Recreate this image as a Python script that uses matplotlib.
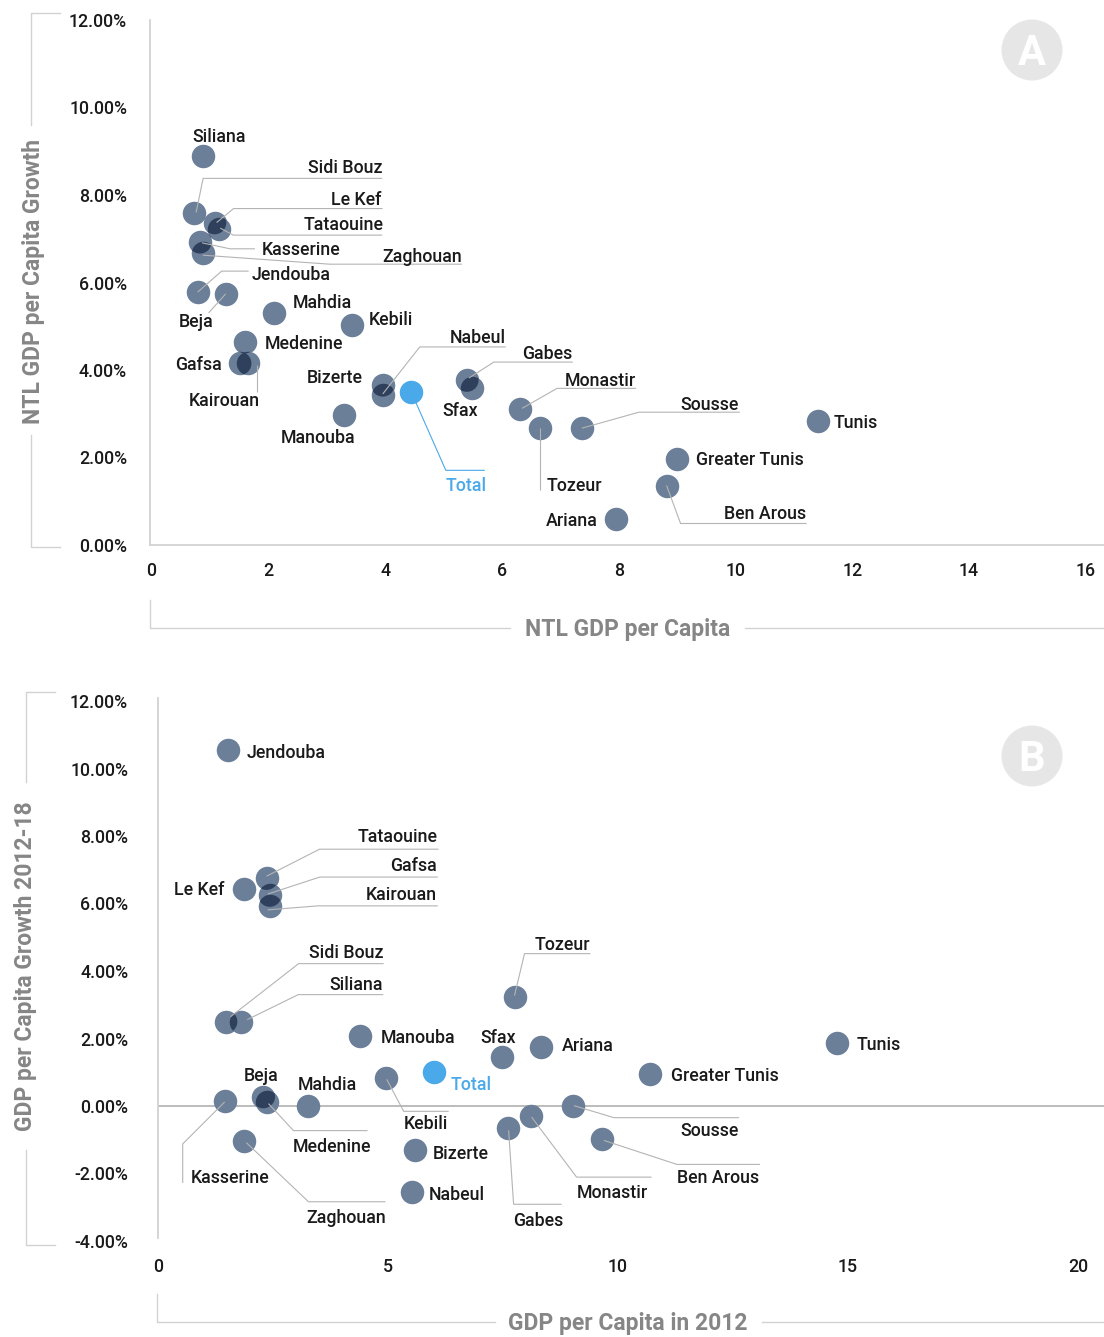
import matplotlib
matplotlib.use("Agg")
import matplotlib.pyplot as plt
from matplotlib.lines import Line2D
from matplotlib.patches import Ellipse
from matplotlib.ticker import FuncFormatter, MultipleLocator
import numpy as np

W, H = 1104, 1337
plt.rcParams['font.family'] = ['Roboto', 'DejaVu Sans']

# --- panel A: night-time-light GDP per capita vs its growth ---
ntl_region = ["Siliana", "Sidi Bouz", "Le Kef", "Tataouine", "Kasserine", "Zaghouan",
              "Jendouba", "Beja", "Mahdia", "Kebili", "Medenine", "Gafsa", "Kairouan",
              "Bizerte", "Nabeul", "Manouba", "Gabes", "Sfax", "Monastir", "Tozeur",
              "Sousse", "Tunis", "Greater Tunis", "Ben Arous", "Ariana", "Total"]
ntl_gdp_pc = [0.89, 0.73, 1.08, 1.16, 0.83, 0.88, 0.79, 1.27, 2.09, 3.43, 1.60, 1.51, 1.65,
              3.96, 3.96, 3.29, 5.40, 5.49, 6.31, 6.65, 7.37, 11.41, 9.00, 8.82, 7.95, 4.44]
ntl_growth = [8.89, 7.58, 7.37, 7.22, 6.93, 6.67, 5.78, 5.74, 5.30, 5.03, 4.65, 4.15, 4.16,
              3.66, 3.43, 2.97, 3.77, 3.58, 3.10, 2.67, 2.67, 2.83, 1.97, 1.36, 0.59, 3.49]

# --- panel B: GDP per capita in 2012 vs growth 2012-18 ---
gdp_region = ["Jendouba", "Le Kef", "Tataouine", "Gafsa", "Kairouan", "Sidi Bouz", "Siliana",
              "Tozeur", "Manouba", "Sfax", "Ariana", "Greater Tunis", "Kebili", "Beja",
              "Medenine", "Kasserine", "Mahdia", "Zaghouan", "Bizerte", "Nabeul", "Gabes",
              "Monastir", "Sousse", "Ben Arous", "Tunis", "Total"]
gdp_pc_2012 = [1.52, 1.87, 2.36, 2.43, 2.43, 1.47, 1.81, 7.75, 4.40, 7.47, 8.32, 10.70, 4.95,
               2.29, 2.38, 1.45, 3.27, 1.88, 5.58, 5.52, 7.60, 8.10, 9.02, 9.65, 14.76, 6.00]
gdp_growth = [10.54, 6.43, 6.75, 6.25, 5.93, 2.50, 2.50, 3.24, 2.07, 1.44, 1.76, 0.95, 0.82,
              0.28, 0.13, 0.15, 0.01, -1.03, -1.30, -2.54, -0.66, -0.30, 0.01, -0.99, 1.88, 1.02]

# label placement in pixels relative to the dot (y down):
# (text dx, text dy, alignment, leader polyline or None)
layout_a = {
    "Siliana": (16, -20, "center", None),
    "Sidi Bouz": (188, -47, "right", [(2, -1), (9, -35), (188, -35)]),
    "Le Kef": (167, -24, "right", [(2, 0), (19, -14), (168, -14)]),
    "Tataouine": (164, -5, "right", [(1, -1), (14, 6), (163, 6)]),
    "Kasserine": (62, 7, "left", [(2, 1), (30, 7), (55, 7)]),
    "Zaghouan": (259, 2, "right", [(0, 2), (127, 11), (259, 11)]),
    "Jendouba": (54, -18, "left", [(0, 0), (24, -21), (51, -21)]),
    "Beja": (-30, 27, "center", [(0, 0), (-17, 19)]),
    "Mahdia": (19, -11, "left", None),
    "Kebili": (17, -6, "left", None),
    "Medenine": (20, 1, "left", None),
    "Gafsa": (-18, 0, "right", None),
    "Kairouan": (-24, 37, "center", [(9, 2), (9, 29)]),
    "Bizerte": (-20, -8, "right", None),
    "Nabeul": (123, -58, "right", [(0, -1), (37, -48), (123, -48)]),
    "Total": (35, 92, "left", [(5, 10), (35, 78), (74, 78)]),
    "Manouba": (-26, 22, "center", None),
    "Gabes": (106, -27, "right", [(2, -2), (27, -18), (106, -18)]),
    "Sfax": (-12, 21, "center", None),
    "Monastir": (116, -30, "right", [(2, -1), (37, -21), (116, -21)]),
    "Tozeur": (7, 56, "left", [(0, 0), (0, 62)]),
    "Sousse": (157, -25, "right", [(0, 0), (57, -16), (158, -16)]),
    "Tunis": (16, 0, "left", None),
    "Greater Tunis": (19, 0, "left", None),
    "Ben Arous": (140, 27, "right", [(0, 0), (14, 38), (140, 38)]),
    "Ariana": (-18, 0, "right", None),
}

layout_b = {
    "Jendouba": (19, 1, "left", None),
    "Le Kef": (-20, 0, "right", None),
    "Tataouine": (171, -43, "right", [(0, -2), (53, -29), (172, -29)]),
    "Gafsa": (167, -30, "right", [(-2, -1), (50, -18), (168, -18)]),
    "Kairouan": (167, -12, "right", [(-2, 4), (48, 0), (168, 0)]),
    "Sidi Bouz": (158, -70, "right", [(5, -5), (73, -58), (158, -58)]),
    "Siliana": (142, -38, "right", [(6, -2), (57, -27), (142, -27)]),
    "Tozeur": (76, -53, "right", [(0, -1), (10, -43), (76, -43)]),
    "Manouba": (20, 1, "left", None),
    "Sfax": (-3, -21, "center", None),
    "Ariana": (21, -2, "left", None),
    "Greater Tunis": (21, 1, "left", None),
    "Total": (17, 12, "left", None),
    "Kebili": (18, 44, "left", [(1, 1), (18, 33), (63, 33)]),
    "Beja": (-2, -22, "center", None),
    "Medenine": (25, 44, "left", [(1, 2), (26, 29), (100, 29)]),
    "Kasserine": (-34, 76, "left", [(0, 1), (-42, 43), (-42, 82)]),
    "Mahdia": (19, -22, "center", None),
    "Zaghouan": (62, 76, "left", [(2, 2), (64, 61), (141, 61)]),
    "Bizerte": (18, 3, "left", None),
    "Nabeul": (17, 2, "left", None),
    "Gabes": (6, 91, "left", [(1, 2), (6, 76), (54, 76)]),
    "Monastir": (46, 76, "left", [(1, 1), (46, 61), (121, 61)]),
    "Sousse": (166, 24, "right", [(1, 0), (41, 12), (166, 12)]),
    "Ben Arous": (75, 37, "left", [(2, 1), (75, 25), (158, 25)]),
    "Tunis": (20, 1, "left", None),
}

DOT = "#6c7f99"
DOT_OVERLAP = "#2f405c"
TOTAL = "#4aa9e8"
LEADER = "#b4b4b4"
TEXT = "#1a1a1a"
AXIS = "#d2d2d2"
TITLE = "#868686"
DIAM = 23.5                      # dot diameter in pixels
DOT_S = (DIAM * 72 / 100) ** 2
LABEL_SIZE = 12.8
LABEL_WEIGHT = "medium"
CAP = 0.711 * LABEL_SIZE * 100 / 72

fig = plt.figure(figsize=(W / 100, H / 100), dpi=100)


def px_axes(l, t, r, b):
    return fig.add_axes([l / W, 1 - b / H, (r - l) / W, (b - t) / H])


def fig_line(xs, ys, color=AXIS, lw=1.0):
    fig.add_artist(Line2D([x / W for x in xs], [1 - y / H for y in ys],
                          transform=fig.transFigure, color=color, lw=lw))


def shifted(ax, x, y, dx, dy):
    px, py = ax.transData.transform((x, y))
    return ax.transData.inverted().transform((px + dx, py - dy))


def draw_points(ax, names, xs, ys, layout):
    xs = np.asarray(xs)
    ys = np.asarray(ys)
    is_total = np.array([n == "Total" for n in names])
    ax.scatter(xs[~is_total], ys[~is_total], s=DOT_S, c=DOT, linewidths=0, zorder=3)
    ax.scatter(xs[is_total], ys[is_total], s=DOT_S, c=TOTAL, linewidths=0, zorder=3)

    # darker fill where two regional dots overlap
    disp = ax.transData.transform(np.column_stack([xs, ys]))
    ppx = ax.transData.transform((1, 0))[0] - ax.transData.transform((0, 0))[0]
    ppy = ax.transData.transform((0, 1))[1] - ax.transData.transform((0, 0))[1]
    for i in range(len(xs)):
        for j in range(i + 1, len(xs)):
            if is_total[i] or is_total[j]:
                continue
            if np.hypot(*(disp[i] - disp[j])) < DIAM:
                clip = Ellipse((xs[i], ys[i]), DIAM / ppx, DIAM / ppy, transform=ax.transData)
                sc = ax.scatter([xs[j]], [ys[j]], s=DOT_S, c=DOT_OVERLAP, linewidths=0, zorder=3.5)
                sc.set_clip_path(clip)

    for name, x, y in zip(names, xs, ys):
        tdx, tdy, ha, leader = layout[name]
        color = TOTAL if name == "Total" else TEXT
        tx, ty = shifted(ax, x, y, tdx, tdy + CAP / 2)
        ax.text(tx, ty, name, ha=ha, va="baseline", fontsize=LABEL_SIZE,
                fontweight=LABEL_WEIGHT, color=color, zorder=5)
        if leader:
            pts = [shifted(ax, x, y, dx, dy) for dx, dy in leader]
            ax.plot([p[0] for p in pts], [p[1] for p in pts], color=TOTAL if name == "Total" else LEADER,
                    lw=0.8, zorder=4, solid_capstyle="butt", clip_on=False)


def style_axes(ax, ypad):
    for side in ["top", "right"]:
        ax.spines[side].set_visible(False)
    for side in ["left", "bottom"]:
        ax.spines[side].set_color(AXIS)
        ax.spines[side].set_linewidth(1.3)
    ax.tick_params(length=0, labelsize=LABEL_SIZE, labelcolor=TEXT)
    ax.tick_params(axis="y", pad=ypad)
    ax.tick_params(axis="x", pad=12)
    for lab in ax.get_xticklabels() + ax.get_yticklabels():
        lab.set_fontweight(LABEL_WEIGHT)
    ax.yaxis.set_major_formatter(FuncFormatter(lambda v, p: f"{v:.2f}%"))
    ax.yaxis.set_major_locator(MultipleLocator(2))


def badge(cx, cy, letter):
    fig.add_artist(Ellipse((cx / W, 1 - cy / H), 61 / W, 61 / H, transform=fig.transFigure,
                           color="#e6e6e6", lw=0))
    fig.text(cx / W, 1 - (cy + 15) / H, letter, ha="center", va="baseline",
             fontsize=30, fontweight="bold", color="white")


# panel A: y axis sits at x=150 px, zero tick at 151.5 px, 58.4 px per unit
ax1 = px_axes(150, 20, 1104, 545)
ax1.set_xlim(-1.5 / 58.4, (1104 - 151.5) / 58.4)
ax1.set_ylim(0, 12)
ax1.xaxis.set_major_locator(MultipleLocator(2))
style_axes(ax1, 16.5)
draw_points(ax1, ntl_region, ntl_gdp_pc, ntl_growth, layout_a)

# panel B: 46 px per unit
ax2 = px_axes(158, 701, 1104, 1241)
ax2.set_xlim(0, (1104 - 158) / 46.0)
ax2.set_ylim(-4, 12)
ax2.xaxis.set_major_locator(MultipleLocator(5))
style_axes(ax2, 21.5)
ax2.spines["bottom"].set_visible(False)
ax2.spines["left"].set_bounds(-3.9, 12.1)
ax2.axhline(0, color="#a9a9a9", lw=1.1, zorder=1)
draw_points(ax2, gdp_region, gdp_pc_2012, gdp_growth, layout_b)

# axis titles with their bracket rules
title_kw = dict(fontsize=16.5, fontweight="bold", color=TITLE)
title_cap = 0.711 * 16.5 * 100 / 72

fig.text(628 / W, 1 - (628 + title_cap / 2) / H, "NTL GDP per Capita", ha="center", va="baseline", **title_kw)
fig_line([150, 150, 510], [600, 628, 628])
fig_line([745, 1104], [628, 628])

fig.text(628 / W, 1 - (1322 + title_cap / 2) / H, "GDP per Capita in 2012", ha="center", va="baseline", **title_kw)
fig_line([157, 157, 495], [1294, 1322, 1322])
fig_line([762, 1104], [1322, 1322])

fig.text((32 + title_cap / 2) / W, 1 - 281 / H, "NTL GDP per Capita Growth", rotation=90,
         rotation_mode="anchor", ha="center", va="baseline", **title_kw)
fig_line([60, 31, 31], [13, 13, 125])
fig_line([31, 31, 60], [435, 547, 547])

fig.text((24 + title_cap / 2) / W, 1 - 966 / H, "GDP per Capita Growth 2012-18", rotation=90,
         rotation_mode="anchor", ha="center", va="baseline", **title_kw)
fig_line([55, 26, 26], [692, 692, 782])
fig_line([26, 26, 55], [1150, 1245, 1245])

badge(1032, 50, "A")
badge(1032, 756, "B")

fig.savefig("out.png", dpi=100, facecolor="white")
